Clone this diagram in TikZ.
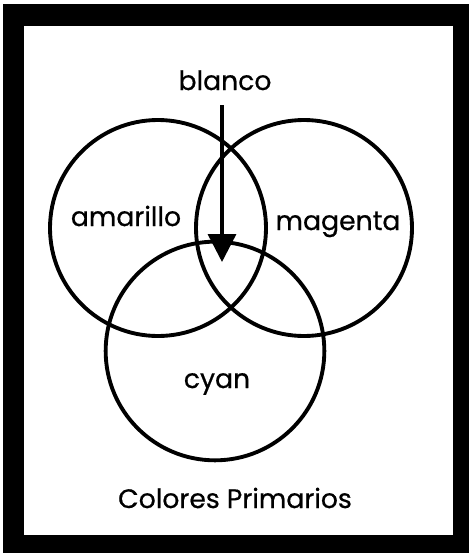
\documentclass[tikz,border=0pt]{standalone}
\usepackage{fontspec}
\setmainfont{Poppins}[FakeBold=0.6,BoldFont=*]
\usetikzlibrary{arrows.meta}
\begin{document}
\begin{tikzpicture}[x=0.75pt,y=-0.75pt,
  ring/.style={draw, line width=2.9pt},
  lbl/.style={anchor=base, inner sep=0pt, font=\fontsize{20}{24}\selectfont\bfseries}]
\useasboundingbox (0,0) rectangle (469,553);
% heavy frame
\fill[black] (3,4) rectangle (469,553);
\fill[white] (24,26) rectangle (453,535);
% the three circles
\draw[ring] (158,228) circle[radius=81pt];
\draw[ring] (304,228) circle[radius=81pt];
\draw[ring] (215,351) circle[radius=82pt];
\node[lbl] (amarillo) at (126,226) {amarillo};
\node[lbl] (magenta) at (338,230) {magenta};
\node[lbl] (cyan) at (217,388) {cyan};
\node[lbl] (blanco) at (225,90) {blanco};
\node[lbl] (titulo) at (235,508) {Colores Primarios};
\coordinate (mezcla) at (222,262);
\draw[line width=2.6pt, shorten <=11pt, -{Triangle[length=21pt,width=21pt]}] (blanco.south -| mezcla) -- (mezcla);
\end{tikzpicture}
\end{document}
